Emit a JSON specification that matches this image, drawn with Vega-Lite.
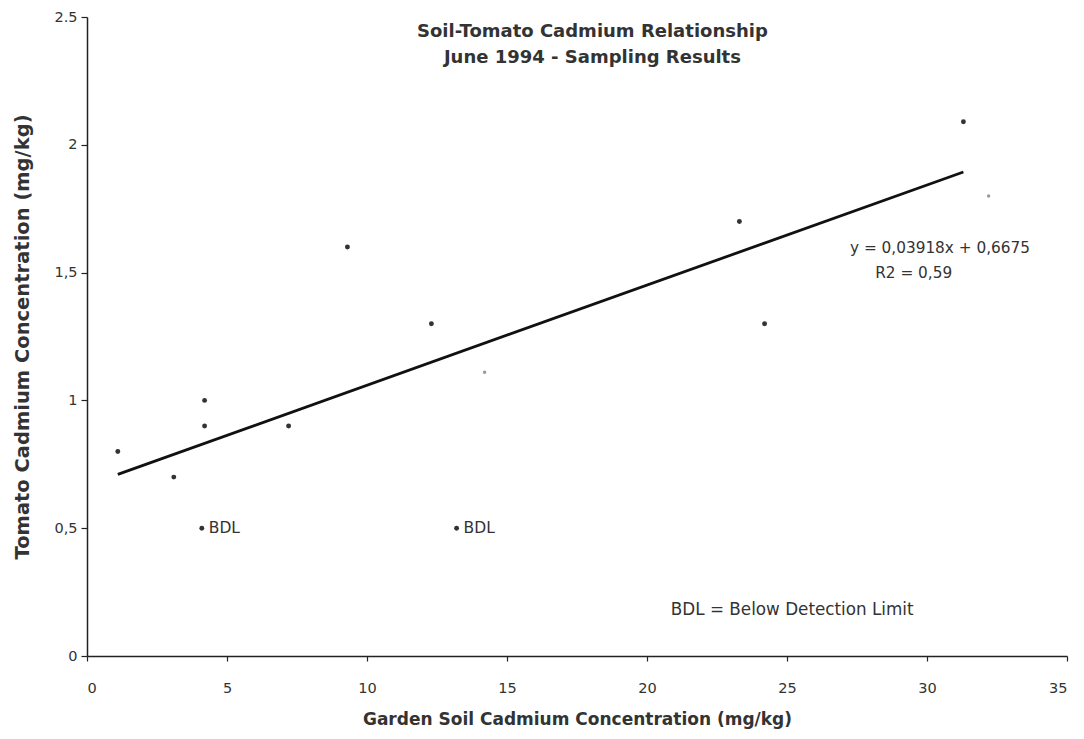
{
  "$schema": "https://vega.github.io/schema/vega-lite/v6.json",
  "width": 980,
  "height": 639,
  "autosize": {"type": "none"},
  "padding": {"left": 87, "top": 17, "right": 17, "bottom": 83},
  "background": "white",
  "config": {
    "view": {"stroke": null},
    "font": "DejaVu Sans",
    "axis": {"grid": false, "domainColor": "#222", "domainWidth": 1.5, "tickColor": "#222", "tickWidth": 1.2, "labelColor": "#333", "titleColor": "#333", "labelFont": "DejaVu Sans", "titleFont": "DejaVu Sans"}
  },
  "datasets": {
    "pts": [
      {"soil": 1.1, "tomato": 0.8, "kind": "measured"},
      {"soil": 3.1, "tomato": 0.7, "kind": "measured"},
      {"soil": 4.2, "tomato": 1.0, "kind": "measured"},
      {"soil": 4.2, "tomato": 0.9, "kind": "measured"},
      {"soil": 7.2, "tomato": 0.9, "kind": "measured"},
      {"soil": 9.3, "tomato": 1.6, "kind": "measured"},
      {"soil": 12.3, "tomato": 1.3, "kind": "measured"},
      {"soil": 23.3, "tomato": 1.7, "kind": "measured"},
      {"soil": 24.2, "tomato": 1.3, "kind": "measured"},
      {"soil": 31.3, "tomato": 2.09, "kind": "measured"},
      {"soil": 4.1, "tomato": 0.5, "kind": "BDL"},
      {"soil": 13.2, "tomato": 0.5, "kind": "BDL"}
    ],
    "faint": [
      {"soil": 14.2, "tomato": 1.11},
      {"soil": 32.2, "tomato": 1.8}
    ],
    "fit": [
      {"soil": 1.1, "tomato": 0.7106},
      {"soil": 31.3, "tomato": 1.8938}
    ],
    "notes": [
      {"soil": 27.25, "tomato": 1.595, "label": "y = 0,03918x + 0,6675", "size": 15.3},
      {"soil": 28.15, "tomato": 1.5, "label": "R2 = 0,59", "size": 15.3},
      {"soil": 20.85, "tomato": 0.18, "label": "BDL = Below Detection Limit", "size": 16.8}
    ],
    "bdl": [
      {"soil": 4.1, "tomato": 0.5, "label": "BDL"},
      {"soil": 13.2, "tomato": 0.5, "label": "BDL"}
    ],
    "title": [
      {"soil": 18.05, "tomato": 2.44, "label": "Soil-Tomato Cadmium Relationship"},
      {"soil": 18.05, "tomato": 2.34, "label": "June 1994 - Sampling Results"}
    ]
  },
  "encoding": {
    "x": {"field": "soil", "type": "quantitative", "scale": {"domain": [0, 35], "nice": false},
      "axis": {"title": "Garden Soil Cadmium Concentration (mg/kg)", "values": [0,5,10,15,20,25,30,35], "tickSize": 5, "labelPadding": 20, "labelFontSize": 14.5, "titleFontSize": 17, "titlePadding": 17, "titleFontWeight": "bold"}},
    "y": {"field": "tomato", "type": "quantitative", "scale": {"domain": [0, 2.5], "nice": false},
      "axis": {"title": "Tomato Cadmium Concentration (mg/kg)", "values": [0,0.5,1,1.5,2,2.5], "tickSize": 6, "labelPadding": 4, "labelFontSize": 14.5, "titleFontSize": 19.5, "titlePadding": 21, "titleFontWeight": "bold",
        "labelExpr": "datum.value == 2.5 ? '2.5' : replace(format(datum.value, ''), '.', ',')"}}
  },
  "layer": [
    {"data": {"name": "fit"}, "mark": {"type": "line", "color": "#111", "strokeWidth": 2.8}},
    {"data": {"name": "faint"}, "mark": {"type": "circle", "color": "#999", "size": 12, "opacity": 1}},
    {"data": {"name": "pts"}, "mark": {"type": "circle", "color": "#333", "size": 24, "opacity": 1}},
    {"data": {"name": "notes"},
      "mark": {"type": "text", "align": "left", "baseline": "middle", "color": "#333"},
      "encoding": {"text": {"field": "label"}, "size": {"field": "size", "type": "quantitative", "scale": null}}},
    {"data": {"name": "bdl"},
      "mark": {"type": "text", "align": "left", "baseline": "middle", "fontSize": 15.5, "color": "#333", "dx": 7},
      "encoding": {"text": {"field": "label"}}},
    {"data": {"name": "title"},
      "mark": {"type": "text", "align": "center", "baseline": "middle", "fontSize": 18, "fontWeight": "bold", "color": "#333"},
      "encoding": {"text": {"field": "label"}}}
  ]
}
